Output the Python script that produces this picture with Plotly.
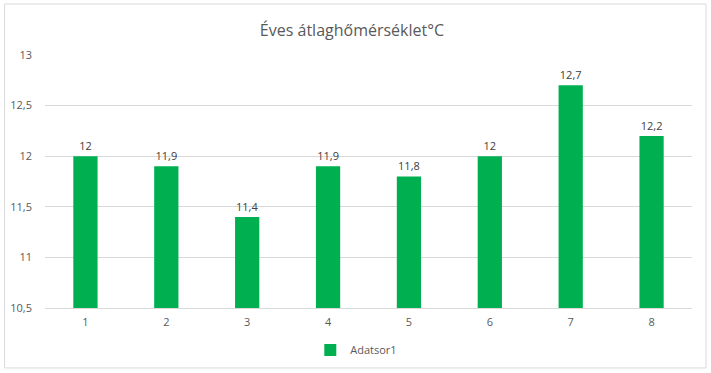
import plotly.graph_objects as go

categories = ["1", "2", "3", "4", "5", "6", "7", "8"]
values = [12, 11.9, 11.4, 11.9, 11.8, 12, 12.7, 12.2]
series_name = "Adatsor1"
title = "Éves átlaghőmérséklet°C"
y_ticks = [10.5, 11, 11.5, 12, 12.5, 13]

def fmt(v):
    s = ("%g" % v)
    return s.replace(".", ",")

fig = go.Figure()
fig.add_trace(go.Bar(
    x=categories, y=values, name=series_name,
    marker=dict(color="#00B050", line=dict(width=0)),
    text=[fmt(v) for v in values], textposition="outside",
    textfont=dict(size=11, color="#404040", family="Open Sans"),
    cliponaxis=False, showlegend=True,
))

fig.update_layout(
    width=711, height=373,
    margin=dict(l=44.5, r=19, t=55, b=65, autoexpand=False),
    paper_bgcolor="white", plot_bgcolor="white",
    separators=", ",
    bargap=0.7,
    font=dict(family="Open Sans", color="#595959", size=11),
    title=dict(text=title, x=352/711, xref="container", y=1 - 30/373, yref="container",
               xanchor="center", yanchor="middle",
               font=dict(size=16, color="#595959", family="Open Sans")),
    xaxis=dict(showgrid=False, showline=True, linecolor="#d9d9d9", linewidth=1,
               ticks="", ticklabelstandoff=4, tickfont=dict(size=11, color="#595959")),
    yaxis=dict(range=[10.5, 13], tickvals=y_ticks, ticktext=[fmt(v) for v in y_ticks],
               showgrid=True, gridcolor="#d9d9d9", gridwidth=1, zeroline=False,
               showline=False, ticks="", ticklabelstandoff=12,
               tickfont=dict(size=11, color="#595959")),
    legend=dict(orientation="h", x=(310 - 44.5) / 647.5, xanchor="left", y=-0.166, yanchor="middle",
                itemwidth=30, font=dict(size=11, color="#595959")),
    shapes=[dict(type="rect", xref="paper", yref="paper",
                 x0=-0.0625, x1=1.0216, y0=-0.237, y1=1.2016,
                 line=dict(color="#d9d9d9", width=1), layer="below")],
)

fig.write_html("out.html", config={"displayModeBar": False},
               post_script="document.body.style.margin='0';")
